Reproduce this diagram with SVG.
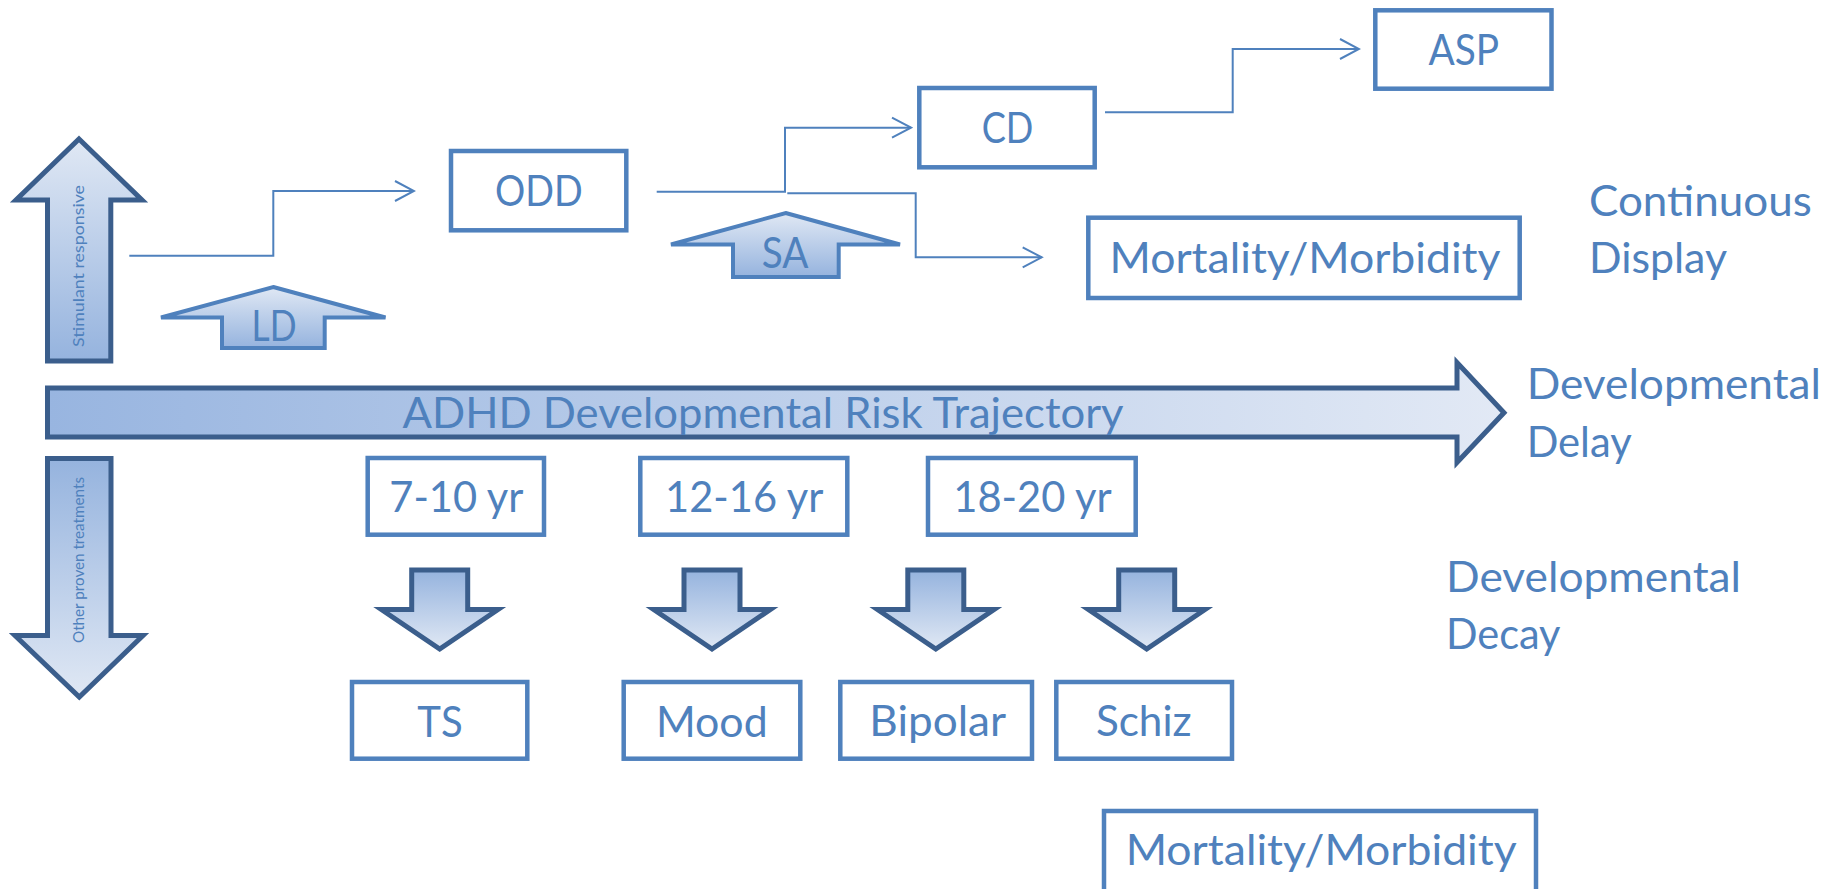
<svg xmlns="http://www.w3.org/2000/svg" width="1841" height="889" viewBox="0 0 1841 889">
<defs>
<style>
.box{fill:#fff;stroke:#4f81bd;stroke-width:4.5}
.t{font-family:Lato,"Liberation Sans",sans-serif;fill:#4f81bd;font-size:42px}
.tm{text-anchor:middle}
.big{stroke:#3b5e8c;stroke-width:5;stroke-linejoin:miter}
.small{stroke:#4f81bd;stroke-width:4;stroke-linejoin:miter}
.con{fill:none;stroke:#4f81bd;stroke-width:2}
.vt{font-family:Lato,"Liberation Sans",sans-serif;fill:#4f81bd;font-size:15px;text-anchor:middle}
</style>
<linearGradient id="gUp" x1="0" y1="0" x2="0" y2="1">
<stop offset="0" stop-color="#e0e8f4"/><stop offset="1" stop-color="#95b3de"/>
</linearGradient>
<linearGradient id="gDown" x1="0" y1="0" x2="0" y2="1">
<stop offset="0" stop-color="#95b3de"/><stop offset="1" stop-color="#e0e8f4"/>
</linearGradient>
<linearGradient id="gRight" x1="0" y1="0" x2="1" y2="0">
<stop offset="0" stop-color="#98b5e0"/><stop offset="1" stop-color="#e2e9f5"/>
</linearGradient>
<marker id="open" markerUnits="userSpaceOnUse" markerWidth="22" markerHeight="24" viewBox="0 0 22 24" refX="20" refY="12" orient="auto">
<path d="M1,2 L20,12 L1,22" fill="none" stroke="#4f81bd" stroke-width="2"/>
</marker>
</defs>
<rect width="1841" height="889" fill="#fff"/>

<g id="connectors">
<path class="con" d="M129.3,255.7 H273.3 V191 H414" marker-end="url(#open)"/>
<path class="con" d="M656.7,191.7 H785 V127.7 H911" marker-end="url(#open)"/>
<path class="con" d="M787.3,193.3 H915.7 V257.3 H1041.7" marker-end="url(#open)"/>
<path class="con" d="M1105,112.3 H1232.7 V49 H1359" marker-end="url(#open)"/>
</g>

<g id="stimulant-arrow">
<path class="big" fill="url(#gUp)" d="M79,139 L142,200 H110.8 V361 H47.5 V200 H16 Z"/>
<text class="vt" transform="translate(84,266) rotate(-90)" textLength="162" lengthAdjust="spacingAndGlyphs">Stimulant responsive</text>
</g>

<g id="other-treatments-arrow">
<path class="big" fill="url(#gDown)" d="M47.5,458.5 H111 V635.5 H143 L79.3,697 L15,635.5 H47.5 Z"/>
<text class="vt" transform="translate(84,560) rotate(-90)" textLength="166" lengthAdjust="spacingAndGlyphs">Other proven treatments</text>
</g>

<g id="trajectory-arrow">
<path class="big" fill="url(#gRight)" d="M47.5,388 H1457 V362.5 L1504,412.7 L1457,462.5 V437 H47.5 Z"/>
<text class="t tm" x="763" y="428.3" textLength="721" lengthAdjust="spacingAndGlyphs">ADHD Developmental Risk Trajectory</text>
</g>

<g id="ld-arrow">
<path class="small" fill="url(#gUp)" d="M273.3,287 L385.5,317.5 H324.7 V348 H222 V317.5 H161 Z"/>
<text class="t tm" x="274" y="340.7" font-size="36" textLength="45" lengthAdjust="spacingAndGlyphs">LD</text>
</g>

<g id="sa-arrow">
<path class="small" fill="url(#gUp)" d="M785.7,213 L900,244.5 H838.7 V277 H733 V244.5 H671 Z"/>
<text class="t tm" x="785" y="268.3" font-size="43" textLength="46.7" lengthAdjust="spacingAndGlyphs">SA</text>
</g>

<g id="odd">
<rect class="box" x="451" y="151" width="175.3" height="79.3"/>
<text class="t tm" x="538.8" y="206" textLength="87.7" lengthAdjust="spacingAndGlyphs">ODD</text>
</g>

<g id="cd">
<rect class="box" x="919.3" y="88" width="175.4" height="79.3"/>
<text class="t tm" x="1007.5" y="143.3" textLength="51.7" lengthAdjust="spacingAndGlyphs">CD</text>
</g>

<g id="asp">
<rect class="box" x="1375.3" y="10.3" width="176.2" height="78.4"/>
<text class="t tm" x="1463.7" y="65" textLength="70.6" lengthAdjust="spacingAndGlyphs">ASP</text>
</g>

<g id="mortality-top">
<rect class="box" x="1088.3" y="217.7" width="431.4" height="80.3"/>
<text class="t" x="1109.5" y="273.3" textLength="391" lengthAdjust="spacingAndGlyphs">Mortality/Morbidity</text>
</g>

<g id="continuous-display">
<text class="t" x="1589" y="215.5" textLength="222.7" lengthAdjust="spacingAndGlyphs">Continuous</text>
<text class="t" x="1589" y="273.3" textLength="138" lengthAdjust="spacingAndGlyphs">Display</text>
</g>

<g id="developmental-delay">
<text class="t" x="1526.7" y="399.3" textLength="294.3" lengthAdjust="spacingAndGlyphs">Developmental</text>
<text class="t" x="1526.7" y="456.7" textLength="105" lengthAdjust="spacingAndGlyphs">Delay</text>
</g>

<g id="age-7-10">
<rect class="box" x="367.7" y="458" width="176.3" height="76.7"/>
<text class="t tm" x="456.3" y="511.7" textLength="134" lengthAdjust="spacingAndGlyphs">7-10 yr</text>
</g>

<g id="age-12-16">
<rect class="box" x="640.3" y="458" width="207" height="76.7"/>
<text class="t tm" x="744.2" y="511.7" textLength="158.3" lengthAdjust="spacingAndGlyphs">12-16 yr</text>
</g>

<g id="age-18-20">
<rect class="box" x="928" y="458" width="207.7" height="76.7"/>
<text class="t tm" x="1032.5" y="511.7" textLength="158.4" lengthAdjust="spacingAndGlyphs">18-20 yr</text>
</g>

<g id="developmental-decay">
<text class="t" x="1446" y="591.7" textLength="295" lengthAdjust="spacingAndGlyphs">Developmental</text>
<text class="t" x="1446" y="649" textLength="114.5" lengthAdjust="spacingAndGlyphs">Decay</text>
</g>

<g id="down-arrow-ts">
<path class="big" fill="url(#gDown)" d="M411.7,570 H467.7 V609.5 H498 L439.7,649 L381.4,609.5 H411.7 Z"/>
</g>
<g id="down-arrow-mood">
<path class="big" fill="url(#gDown)" d="M684,570 H740 V609.5 H770.3 L712,649 L653.7,609.5 H684 Z"/>
</g>
<g id="down-arrow-bipolar">
<path class="big" fill="url(#gDown)" d="M907.8,570 H963.8 V609.5 H994.1 L935.8,649 L877.5,609.5 H907.8 Z"/>
</g>
<g id="down-arrow-schiz">
<path class="big" fill="url(#gDown)" d="M1118.7,570 H1174.7 V609.5 H1205 L1146.7,649 L1088.4,609.5 H1118.7 Z"/>
</g>

<g id="ts">
<rect class="box" x="352" y="682" width="175.3" height="76.7"/>
<text class="t tm" x="440" y="736.7" textLength="45.3" lengthAdjust="spacingAndGlyphs">TS</text>
</g>

<g id="mood">
<rect class="box" x="623.7" y="682" width="176.6" height="76.7"/>
<text class="t tm" x="711.8" y="736.7" textLength="111.7" lengthAdjust="spacingAndGlyphs">Mood</text>
</g>

<g id="bipolar">
<rect class="box" x="840.3" y="682" width="191.7" height="76.7"/>
<text class="t tm" x="937.7" y="735.7" textLength="136.7" lengthAdjust="spacingAndGlyphs">Bipolar</text>
</g>

<g id="schiz">
<rect class="box" x="1056.3" y="682" width="175.7" height="76.7"/>
<text class="t tm" x="1143.8" y="735.7" textLength="95.7" lengthAdjust="spacingAndGlyphs">Schiz</text>
</g>

<g id="mortality-bottom">
<rect class="box" x="1104" y="811" width="432" height="90"/>
<text class="t" x="1125.7" y="865" textLength="391" lengthAdjust="spacingAndGlyphs">Mortality/Morbidity</text>
</g>
</svg>
